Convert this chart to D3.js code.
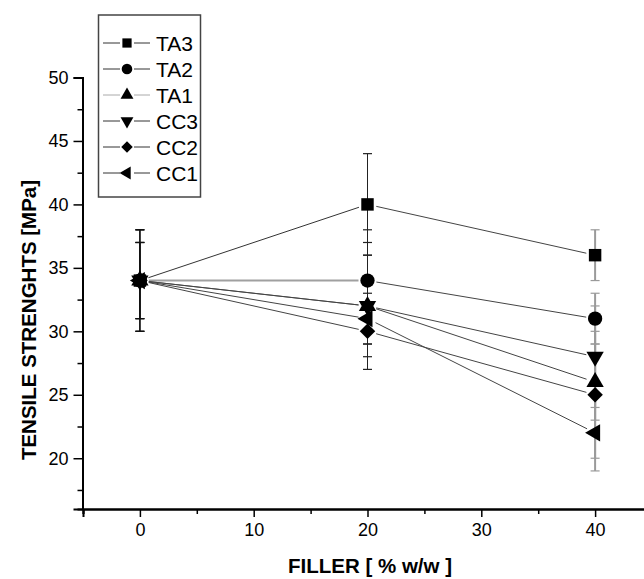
<!DOCTYPE html>
<html>
<head>
<meta charset="utf-8">
<script src="https://cdn.jsdelivr.net/npm/d3@7"></script>
<style>
  body { margin: 0; background: #fff; }
  text { font-family: "Liberation Sans", Arial, sans-serif; }
</style>
</head>
<body>
<script>
// Data

let fillers = [0, 20, 40]
let seriesNames = ['TA3', 'TA2', 'TA1', 'CC3', 'CC2', 'CC1']

let TA3 = [34, 40, 36]
let TA2 = [34, 34, 31]
let TA1 = [34, 32, 26]
let CC3 = [34, 32, 28]
let CC2 = [34, 30, 25]
let CC1 = [34, 31, 22]

let TA3err = [4, 4, 2]
let TA2err = [3, 4, 2]
let TA1err = [3, 5, 3]
let CC3err = [4, 4, 4]
let CC2err = [3, 1, 5]
let CC1err = [4, 2, 3]

let xTicks = [0, 10, 20, 30, 40]
let yTicks = [20, 25, 30, 35, 40, 45, 50]

let values = { TA3, TA2, TA1, CC3, CC2, CC1 }
let errors = { TA3: TA3err, TA2: TA2err, TA1: TA1err, CC3: CC3err, CC2: CC2err, CC1: CC1err }

// Sizing

let width = 644
let height = 579

let svg = d3.select('body')
    .append('svg')
    .attr('width', width)
    .attr('height', height)

let xScale = d3.scaleLinear().domain([-5, 45]).range([83, 652])
let yScale = d3.scaleLinear().domain([16, 50]).range([509, 77.5])

// Marker shapes: symbol type + rotation
let shapes = {
    TA3: { type: d3.symbolSquare, rot: 0, size: 155 },
    TA2: { type: d3.symbolCircle, rot: 0, size: 160 },
    TA1: { type: d3.symbolTriangle, rot: 0, size: 130 },
    CC3: { type: d3.symbolTriangle, rot: 180, size: 130 },
    CC2: { type: d3.symbolSquare, rot: 45, size: 120 },
    CC1: { type: d3.symbolTriangle, rot: -90, size: 130 }
}

// segment colours (0->20, 20->40)
let segColors = {
    TA3: ['#333', '#444'],
    TA2: ['#a0a0a0', '#444'],
    TA1: ['#555', '#444'],
    CC3: ['#444', '#444'],
    CC2: ['#444', '#444'],
    CC1: ['#444', '#444']
}

let errColor = ['#111', '#222', '#9a9a9a']
let errWidth = [1, 1, 2]

// Axes

let xAxis = d3.axisBottom(xScale).tickValues(xTicks).tickSize(8).tickPadding(6)
let xMinor = d3.axisBottom(xScale).tickValues([-5, 5, 15, 25, 35, 45]).tickSize(5).tickFormat('')
let yAxis = d3.axisLeft(yScale).tickValues(yTicks).tickSize(9).tickPadding(5)
let yMinor = d3.axisLeft(yScale).tickValues([17.5, 22.5, 27.5, 32.5, 37.5, 42.5, 47.5]).tickSize(5).tickFormat('')

function styleAxis(g) {
    g.select('.domain').attr('stroke', '#000').attr('stroke-width', 2)
    g.selectAll('.tick line').attr('stroke', '#000').attr('stroke-width', 1.5)
    g.selectAll('.tick text').attr('font-size', 18).attr('fill', '#000')
        .style('font-family', '"Liberation Sans", Arial, sans-serif')
}

svg.append('g').attr('transform', 'translate(0,509)').call(xMinor).call(styleAxis)
svg.append('g').attr('transform', 'translate(0,509)').call(xAxis).call(styleAxis)
svg.append('g').attr('transform', 'translate(82.5,0)').call(yMinor).call(styleAxis)
svg.append('g').attr('transform', 'translate(82.5,0)').call(yAxis).call(styleAxis)

// Axis titles
svg.append('text')
    .attr('x', 370).attr('y', 573)
    .attr('text-anchor', 'middle')
    .attr('font-size', 20.5).attr('font-weight', 'bold')
    .text('FILLER [ % w/w ]')

svg.append('text')
    .attr('transform', 'translate(36,320) rotate(-90)')
    .attr('text-anchor', 'middle')
    .attr('font-size', 20.5).attr('font-weight', 'bold')
    .text('TENSILE STRENGHTS [MPa]')

// Error bars
let errG = svg.append('g')
seriesNames.forEach(name => {
    fillers.forEach((f, i) => {
        let v = values[name][i], e = errors[name][i]
        let cx = xScale(f)
        let y1 = yScale(v - e), y2 = yScale(v + e)
        errG.append('line')
            .attr('x1', cx).attr('x2', cx).attr('y1', y1).attr('y2', y2)
            .attr('stroke', errColor[i]).attr('stroke-width', errWidth[i])
        ;[y1, y2].forEach(y => {
            errG.append('line')
                .attr('x1', cx - 4.5).attr('x2', cx + 4.5).attr('y1', y).attr('y2', y)
                .attr('stroke', errColor[i]).attr('stroke-width', 1.2)
        })
    })
})

// Connecting lines, with a gap near each marker
let gap = 9
let lineG = svg.append('g')
seriesNames.forEach(name => {
    let vals = values[name]
    for (let i = 0; i < fillers.length - 1; i++) {
        let xa = xScale(fillers[i]), ya = yScale(vals[i])
        let xb = xScale(fillers[i + 1]), yb = yScale(vals[i + 1])
        let len = Math.hypot(xb - xa, yb - ya)
        let ux = (xb - xa) / len, uy = (yb - ya) / len
        lineG.append('line')
            .attr('x1', xa + ux * gap).attr('y1', ya + uy * gap)
            .attr('x2', xb - ux * gap).attr('y2', yb - uy * gap)
            .attr('stroke', segColors[name][i])
            .attr('stroke-width', name === 'TA2' && i === 0 ? 2 : 1)
    }
})

// Markers
let markG = svg.append('g')
seriesNames.slice().reverse().forEach(name => {
    let s = shapes[name]
    markG.selectAll(null)
        .data(fillers.map((f, i) => ({ f, v: values[name][i] })))
        .join('path')
        .attr('d', d3.symbol().type(s.type).size(s.size))
        .attr('transform', d => `translate(${xScale(d.f)},${yScale(d.v)}) rotate(${s.rot})`)
        .attr('fill', '#000')
})

// Legend
let legend = svg.append('g')
legend.append('rect')
    .attr('x', 98.5).attr('y', 15).attr('width', 102).attr('height', 182)
    .attr('fill', '#fff').attr('stroke', '#444').attr('stroke-width', 1.5)

seriesNames.forEach((name, i) => {
    let y = 43 + i * 26
    let s = shapes[name]
    let col = name === 'TA1' ? '#aaa' : '#333'
    legend.append('line').attr('x1', 103).attr('x2', 120).attr('y1', y).attr('y2', y)
        .attr('stroke', col).attr('stroke-width', 1)
    legend.append('line').attr('x1', 134).attr('x2', 150).attr('y1', y).attr('y2', y)
        .attr('stroke', col).attr('stroke-width', 1)
    legend.append('path')
        .attr('d', d3.symbol().type(s.type).size(s.size * 0.55))
        .attr('transform', `translate(127,${y}) rotate(${s.rot})`)
        .attr('fill', '#000')
    legend.append('text')
        .attr('x', 156).attr('y', y + 7.5)
        .attr('font-size', 21)
        .text(name)
})
</script>
</body>
</html>
